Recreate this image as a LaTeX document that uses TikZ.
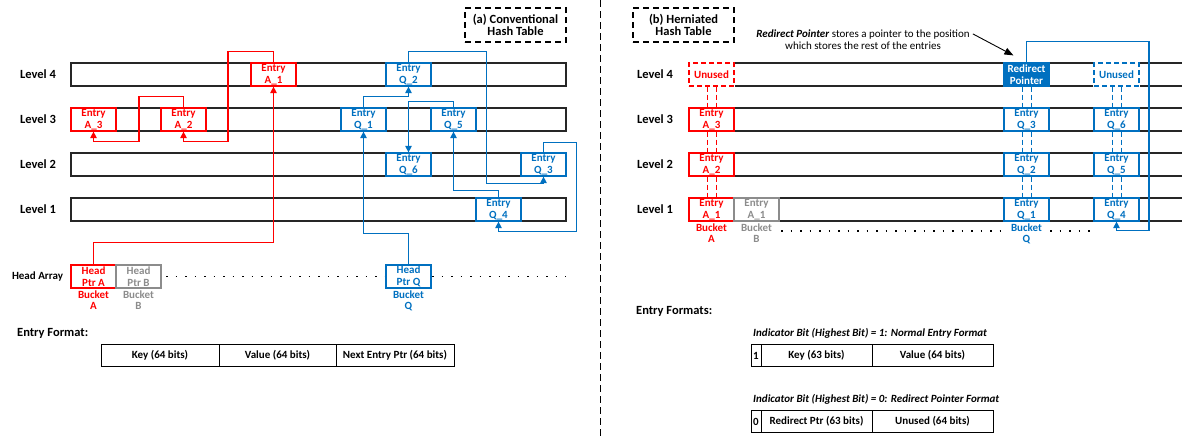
\documentclass[tikz,border=0pt]{standalone}
\usepackage{fontspec}
\setmainfont{Carlito}
\usetikzlibrary{positioning,arrows.meta,calc}
\definecolor{ared}{RGB}{255,0,0}
\definecolor{qblue}{RGB}{0,112,192}
\definecolor{bgray}{RGB}{140,140,140}

\begin{document}
\begin{tikzpicture}[x=1pt, y=-1pt,
  every node/.style={font=\fontsize{11}{11.5}\selectfont\bfseries, inner sep=0pt},
  row/.style={draw=black!85, line width=1.2pt},
  lvl/.style={font=\fontsize{12.5}{13}\selectfont\bfseries},
  title/.style={draw, line width=1.3pt, dash pattern=on 6pt off 4pt, minimum width=101pt, minimum height=34pt, align=center, font=\fontsize{12.5}{12.5}\selectfont\bfseries},
  entrybox/.style={draw, fill=white, line width=1.2pt, minimum width=45pt, minimum height=23pt, align=center},
  aent/.style={entrybox, draw=ared, text=ared},
  qent/.style={entrybox, draw=qblue, text=qblue},
  bent/.style={entrybox, draw=bgray, text=bgray},
  unused/.style={dash pattern=on 5pt off 3pt, preaction={draw=white, solid}},
  bkt/.style={align=center, font=\fontsize{11}{11}\selectfont\bfseries},
  ptr/.style={line width=1.1pt, -{Triangle[width=6.5pt,length=6.5pt]}},
  alink/.style={line width=1pt, dash pattern=on 5pt off 3pt},
  dots/.style={line width=1.6pt, dash pattern=on 1.6pt off 7.9pt},
  fmt/.style={draw, line width=1pt, minimum height=22pt, outer sep=0pt},
  fmthead/.style={font=\fontsize{12.5}{12.5}\selectfont\bfseries, anchor=west},
  fmtnote/.style={font=\fontsize{11}{11}\selectfont\bfseries\itshape, anchor=west}]
\useasboundingbox (0,0) rectangle (1182,439);

% separator
\draw[line width=1pt, dash pattern=on 7pt off 4pt] (600,0) -- (600,439);

% ---------------- (a) conventional hash table ----------------
\node[title] (ttla) at (515.5,25) {(a) Conventional\\Hash Table};

\foreach \lv/\y in {4/63,3/108,2/153,1/198} {
  \draw[row] (71,\y) rectangle (566,\y+23);
  \node[lvl] at (38,\y+11.5) {Level \lv};
}

% head array
\node at (37.5,276.5) {Head Array};
\draw[dots] (166,276.5) -- (566,276.5);
\node[aent] (hpa) at (93.5,276.5) {Head\\Ptr A};
\node[bent] (hpb) at (138.5,276.5) {Head\\Ptr B};
\node[qent] (hpq) at (408.5,276.5) {Head\\Ptr Q};
\node[bkt, text=ared, below=2pt of hpa] {Bucket\\A};
\node[bkt, text=bgray, below=2pt of hpb] {Bucket\\B};
\node[bkt, text=qblue, below=2pt of hpq] {Bucket\\Q};

% bucket A chain
\node[aent] (a1) at (273.5,74.5) {Entry\\A\_1};
\node[aent] (a2) at (183.5,119.5) {Entry\\A\_2};
\node[aent] (a3) at (93.5,119.5) {Entry\\A\_3};

% bucket Q chain
\node[qent] (q1) at (363.5,119.5) {Entry\\Q\_1};
\node[qent] (q2) at (408.5,74.5) {Entry\\Q\_2};
\node[qent] (q3) at (543.5,164.5) {Entry\\Q\_3};
\node[qent] (q4) at (498.5,209.5) {Entry\\Q\_4};
\node[qent] (q5) at (453.5,119.5) {Entry\\Q\_5};
\node[qent] (q6) at (408.5,164.5) {Entry\\Q\_6};

\begin{scope}[ared]
\draw[ptr] (hpa.north) -- ++(0,-22) -| (a1.south);
\draw[ptr] (a1.north) -- ++(0,-11) -| ++(-45.5,90) -| (a2.south);
\draw[ptr] (a2.north) -- ++(0,-11) -| ++(-44.5,45) -| (a3.south);
\end{scope}
\begin{scope}[qblue]
\draw[ptr] (hpq.north) -- ++(0,-31) -| (q1.south);
\draw[ptr] (q1.north) -- ++(0,-11) -| (q2.south);
\draw[ptr] (q2.north) -- ++(0,-11) -| ++(78,132) -| (q3.south);
\draw[ptr] (q3.north) -- ++(0,-10) -| ++(33,89) -| (q4.south);
\draw[ptr] (q4.north) -- ++(0,-7) -| (q5.south);
\draw[ptr] (q5.north) -- ++(0,-6) -| (q6.north);
\end{scope}

% entry format
\node[fmthead] at (17,333) {Entry Format:};
\node[fmt, minimum width=118pt] (fkey) at (160,355) {Key (64 bits)};
\node[fmt, minimum width=117pt, right=0pt of fkey] (fval) {Value (64 bits)};
\node[fmt, minimum width=118pt, right=0pt of fval] (fnext) {Next Entry Ptr (64 bits)};

% ---------------- (b) herniated hash table ----------------
\node[title] (ttlb) at (683.5,25) {(b) Herniated\\Hash Table};

\foreach \lv/\y in {4/63,3/108,2/153,1/198} {
  \draw[row] (1182,\y) -- (689,\y) -- (689,\y+23) -- (1182,\y+23);
  \node[lvl] at (655,\y+11.5) {Level \lv};
}

\draw[dots] (781,231) -- (1000,231);
\draw[dots] (1050,231) -- (1090,231);

% bucket A column
\node[aent, unused] (ra4) at (711.5,74.5) {Unused};
\node[aent] (ra3) at (711.5,119.5) {Entry\\A\_3};
\node[aent] (ra2) at (711.5,164.5) {Entry\\A\_2};
\node[aent] (ra1) at (711.5,209.5) {Entry\\A\_1};
\node[bent] (rb1) at (756.5,209.5) {Entry\\A\_1};
\node[bkt, text=ared, below=2pt of ra1] {Bucket\\A};
\node[bkt, text=bgray, below=2pt of rb1] {Bucket\\B};

% bucket Q columns
\node[entrybox, draw=qblue, fill=qblue, text=white] (rp) at (1026.5,74.5) {Redirect\\Pointer};
\node[qent] (rq3) at (1026.5,119.5) {Entry\\Q\_3};
\node[qent] (rq2) at (1026.5,164.5) {Entry\\Q\_2};
\node[qent] (rq1) at (1026.5,209.5) {Entry\\Q\_1};
\node[qent, unused] (ru) at (1116.5,74.5) {Unused};
\node[qent] (rq6) at (1116.5,119.5) {Entry\\Q\_6};
\node[qent] (rq5) at (1116.5,164.5) {Entry\\Q\_5};
\node[qent] (rq4) at (1116.5,209.5) {Entry\\Q\_4};
\node[bkt, text=qblue, below=2pt of rq1] {Bucket\\Q};

% dashed links within a column
\foreach \u/\l/\c in {ra4/ra3/ared,ra3/ra2/ared,ra2/ra1/ared,
                      rp/rq3/qblue,rq3/rq2/qblue,rq2/rq1/qblue,
                      ru/rq6/qblue,rq6/rq5/qblue,rq5/rq4/qblue} {
  \draw[alink, \c] ([xshift=-4.5pt]\u.south) -- ([xshift=-4.5pt]\l.north);
  \draw[alink, \c] ([xshift=4.5pt]\u.south) -- ([xshift=4.5pt]\l.north);
}

\draw[ptr, qblue] (rp.north) -- ++(0,-21) -| ++(122.5,189) -| (rq4.south);

% note on the redirect pointer
\node[font=\fontsize{11}{12}\selectfont, align=center] (rpnote) at (863,40)
  {\textbf{\textit{Redirect Pointer}} stores a pointer to the position\\which stores the rest of the entries};
\draw[line width=0.9pt, -{Triangle[width=7pt,length=9pt]}] ([xshift=3pt,yshift=-4pt]rpnote.north east) -- ($(rp.north west)+(10,-7)$);

% entry formats
\node[fmthead] at (636,311) {Entry Formats:};
\node[fmtnote] at (753,333) {Indicator Bit (Highest Bit) = 1: Normal Entry Format};
\node[fmt, minimum width=10pt] (nbit) at (756,355.5) {1};
\node[fmt, minimum width=111pt, right=0pt of nbit] (nkey) {Key (63 bits)};
\node[fmt, minimum width=121pt, right=0pt of nkey] (nval) {Value (64 bits)};

\node[fmtnote] at (753,399) {Indicator Bit (Highest Bit) = 0: Redirect Pointer Format};
\node[fmt, minimum width=10pt] (rbit) at (756,421.5) {0};
\node[fmt, minimum width=111pt, right=0pt of rbit] (rptr) {Redirect Ptr (63 bits)};
\node[fmt, minimum width=121pt, right=0pt of rptr] (rval) {Unused (64 bits)};
\end{tikzpicture}
\end{document}
